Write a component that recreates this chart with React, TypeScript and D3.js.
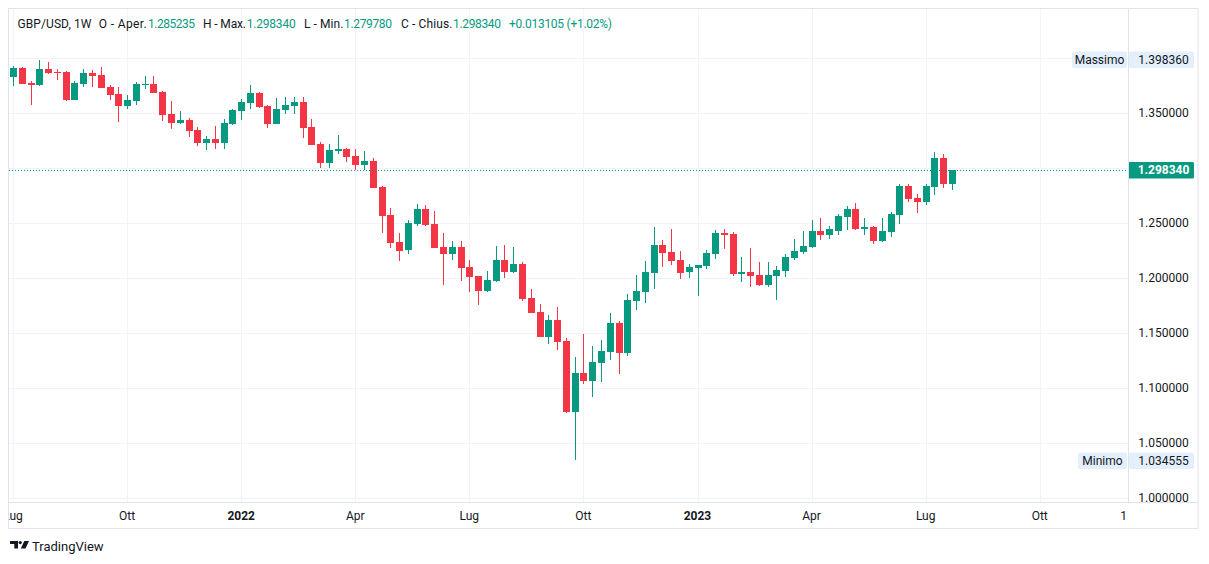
import React from "react";
import * as d3 from "d3";

// Weekly GBP/USD candles, first week starting 2021-07-05
const firstWeek = "2021-07-05";

const opens = [
  1.3830, 1.3909, 1.3775, 1.3755, 1.3900, 1.3873, 1.3876, 1.3618, 1.3764, 1.3864,
  1.3845, 1.3736, 1.3673, 1.3564, 1.3609, 1.3757, 1.3764, 1.3691, 1.3491, 1.3409,
  1.3436, 1.3345, 1.3227, 1.3264, 1.3227, 1.3400, 1.3518, 1.3591, 1.3682, 1.3564,
  1.3400, 1.3527, 1.3564, 1.3600, 1.3373, 1.3218, 1.3045, 1.3155, 1.3173, 1.3109,
  1.3027, 1.3064, 1.2827, 1.2573, 1.2327, 1.2255, 1.2491, 1.2627, 1.2491, 1.2282,
  1.2218, 1.2282, 1.2100, 1.2018, 1.1882, 1.1973, 1.2164, 1.2055, 1.2127, 1.1818,
  1.1691, 1.1464, 1.1618, 1.1427, 1.0782, 1.1136, 1.1064, 1.1227, 1.1327, 1.1591,
  1.1318, 1.1791, 1.1873, 1.2045, 1.2300, 1.2236, 1.2164, 1.2055, 1.2091, 1.2109,
  1.2218, 1.2409, 1.2400, 1.2036, 1.2055, 1.2027, 1.1936, 1.2018, 1.2064, 1.2182,
  1.2236, 1.2282, 1.2427, 1.2391, 1.2427, 1.2555, 1.2627, 1.2445, 1.2464, 1.2336,
  1.2418, 1.2573, 1.2839, 1.2730, 1.2691, 1.2827, 1.3091, 1.285235,
];

const highs = [
  1.3927, 1.3918, 1.3791, 1.39836, 1.3964, 1.3900, 1.3882, 1.3791, 1.3900, 1.3891,
  1.3918, 1.3755, 1.3736, 1.3664, 1.3782, 1.3836, 1.3836, 1.3700, 1.3609, 1.3518,
  1.3455, 1.3373, 1.3291, 1.3382, 1.3445, 1.3536, 1.3627, 1.3755, 1.3691, 1.3573,
  1.3636, 1.3645, 1.3645, 1.3645, 1.3445, 1.3236, 1.3218, 1.3300, 1.3182, 1.3173,
  1.3155, 1.3091, 1.2836, 1.2636, 1.2409, 1.2527, 1.2673, 1.2664, 1.2609, 1.2409,
  1.2336, 1.2336, 1.2164, 1.2018, 1.2064, 1.2291, 1.2300, 1.2282, 1.2145, 1.1900,
  1.1764, 1.1664, 1.1736, 1.1455, 1.1282, 1.1491, 1.1382, 1.1436, 1.1682, 1.1609,
  1.1855, 1.2027, 1.2155, 1.2464, 1.2345, 1.2445, 1.2245, 1.2127, 1.2118, 1.2255,
  1.2436, 1.2445, 1.2418, 1.2191, 1.2273, 1.2145, 1.2145, 1.2109, 1.2218, 1.2355,
  1.2427, 1.2527, 1.2545, 1.2473, 1.2582, 1.2655, 1.2682, 1.2545, 1.2473, 1.2545,
  1.2600, 1.2855, 1.2855, 1.2764, 1.2855, 1.3145, 1.3127, 1.298340,
];

const lows = [
  1.3748, 1.3761, 1.3573, 1.3748, 1.3855, 1.3800, 1.3609, 1.3618, 1.3739, 1.3739,
  1.3727, 1.3618, 1.3418, 1.3536, 1.3573, 1.3718, 1.3679, 1.3427, 1.3355, 1.3400,
  1.3282, 1.3200, 1.3164, 1.3173, 1.3173, 1.3391, 1.3436, 1.3536, 1.3545, 1.3364,
  1.3400, 1.3491, 1.3491, 1.3273, 1.3209, 1.3000, 1.3000, 1.3127, 1.3055, 1.2982,
  1.2982, 1.2818, 1.2409, 1.2273, 1.2155, 1.2218, 1.2473, 1.2473, 1.2273, 1.1936,
  1.2164, 1.1973, 1.1873, 1.1755, 1.1873, 1.1964, 1.2000, 1.2045, 1.1791, 1.1682,
  1.1464, 1.1400, 1.1345, 1.0773, 1.034555, 1.1036, 1.0918, 1.1055, 1.1255, 1.1127,
  1.1291, 1.1709, 1.1773, 1.1900, 1.2100, 1.2118, 1.1991, 1.2000, 1.1836, 1.2082,
  1.2173, 1.2264, 1.2018, 1.1964, 1.1918, 1.1927, 1.1918, 1.1800, 1.2009, 1.2164,
  1.2218, 1.2273, 1.2345, 1.2355, 1.2391, 1.2436, 1.2436, 1.2391, 1.2309, 1.2327,
  1.2373, 1.2491, 1.2691, 1.2591, 1.2664, 1.2755, 1.2818, 1.279780,
];

const closes = [
  1.3909, 1.3766, 1.3757, 1.3900, 1.3864, 1.3866, 1.3618, 1.3773, 1.3864, 1.3836,
  1.3727, 1.3664, 1.3564, 1.3618, 1.3764, 1.3766, 1.3682, 1.3482, 1.3409, 1.3436,
  1.3336, 1.3227, 1.3264, 1.3227, 1.3409, 1.3527, 1.3600, 1.3682, 1.3554, 1.3400,
  1.3536, 1.3573, 1.3600, 1.3364, 1.3209, 1.3045, 1.3164, 1.3173, 1.3100, 1.3027,
  1.3064, 1.2818, 1.2564, 1.2318, 1.2245, 1.2500, 1.2627, 1.2482, 1.2273, 1.2218,
  1.2282, 1.2091, 1.2009, 1.1882, 1.1982, 1.2164, 1.2055, 1.2127, 1.1809, 1.1682,
  1.1464, 1.1618, 1.1418, 1.0782, 1.1136, 1.1064, 1.1236, 1.1336, 1.1591, 1.1318,
  1.1800, 1.1882, 1.2055, 1.2300, 1.2227, 1.2155, 1.2045, 1.2100, 1.2118, 1.2227,
  1.2409, 1.2391, 1.2036, 1.2055, 1.2018, 1.1936, 1.2027, 1.2073, 1.2191, 1.2245,
  1.2291, 1.2427, 1.2391, 1.2445, 1.2564, 1.2627, 1.2445, 1.2464, 1.2336, 1.2427,
  1.2582, 1.2839, 1.2718, 1.2691, 1.2839, 1.3091, 1.285235, 1.298340,
];

const timeTickDates = [
  "2021-07-05", "2021-10-04", "2022-01-03", "2022-04-04", "2022-07-04",
  "2022-10-03", "2023-01-02", "2023-04-03", "2023-07-03", "2023-10-02",
];
const timeTickLabels = ["Lug", "Ott", "2022", "Apr", "Lug", "Ott", "2023", "Apr", "Lug", "Ott"];
const yearLabels = ["2022", "2023"];

const priceTicks = [1.0, 1.05, 1.1, 1.15, 1.2, 1.25, 1.3, 1.35, 1.4];
const hiddenPriceLabels = [1.3, 1.4];

const UP = "#089981";
const DOWN = "#f23645";
const TEXT = "#131722";
const BORDER = "#e0e3eb";
const GRID = "#f0f3fa";
const FONT = "Roboto, 'Noto Sans', sans-serif";

const paneL = 9, paneR = 1128, paneT = 9, paneB = 502;
const outerR = 1198, outerB = 528.5;

export default function App() {
  const parse = d3.utcParse("%Y-%m-%d");
  const start = parse(firstWeek) as Date;
  const dates = closes.map((_, i) => d3.utcMonday.offset(start, i));
  const x = d3.scaleUtc().domain([dates[0], dates[dates.length - 1]]).range([13, 952]);
  const y = d3.scaleLinear().domain([1.0, 1.4]).range([498, 58]);
  const fmt = d3.format(".6f");

  const n = closes.length;
  const lastO = opens[n - 1], lastH = highs[n - 1], lastL = lows[n - 1], lastC = closes[n - 1];
  const prevC = closes[n - 2];
  const chg = lastC - prevC;
  const chgPct = (chg / prevC) * 100;
  const maxH = d3.max(highs) as number;
  const minL = d3.min(lows) as number;

  const yMax = y(maxH), yMin = y(minL), yLast = y(lastC);

  return (
    <div style={{ position: "absolute", left: 0, top: 0 }}>
      <svg width={1209} height={564} style={{ display: "block", fontFamily: FONT }}>
        <defs>
          <clipPath id="pane">
            <rect x={paneL} y={paneT} width={paneR - paneL} height={paneB - paneT} />
          </clipPath>
          <clipPath id="timeaxis">
            <rect x={paneL} y={paneB} width={paneR - paneL} height={outerB - paneB} />
          </clipPath>
          <clipPath id="priceaxis">
            <rect x={paneR} y={paneT} width={outerR - paneR} height={paneB - paneT} />
          </clipPath>
        </defs>
        <rect x={0} y={0} width={1209} height={564} fill="#ffffff" />

        {/* grid */}
        <g clipPath="url(#pane)">
          {priceTicks.map((p) => (
            <line key={"h" + p} x1={paneL} x2={paneR} y1={Math.round(y(p)) + 0.5} y2={Math.round(y(p)) + 0.5} stroke={GRID} strokeWidth={1} />
          ))}
          {timeTickDates.map((d) => {
            const xx = Math.round(x(parse(d) as Date)) + 0.5;
            return <line key={"v" + d} x1={xx} x2={xx} y1={paneT} y2={paneB} stroke={GRID} strokeWidth={1} />;
          })}
        </g>

        {/* candles */}
        <g clipPath="url(#pane)">
          {closes.map((c, i) => {
            const o = opens[i], h = highs[i], l = lows[i];
            const up = c >= o;
            const col = up ? UP : DOWN;
            const cx = Math.round(x(dates[i]));
            const top = Math.round(y(Math.max(o, c)));
            const bot = Math.round(y(Math.min(o, c)));
            const hy = Math.round(y(h));
            const ly = Math.round(y(l));
            return (
              <g key={i}>
                <rect x={cx} y={hy} width={1} height={Math.max(1, ly - hy)} fill={col} />
                <rect x={cx - 3} y={top} width={7} height={Math.max(1, bot - top)} fill={col} />
              </g>
            );
          })}
          <line x1={paneL} x2={paneR} y1={Math.round(yLast) + 0.5} y2={Math.round(yLast) + 0.5} stroke={UP} strokeWidth={1} strokeDasharray="1 2" />
        </g>

        {/* header */}
        <g fontSize={12} fill={TEXT}>
          <text x={17.5} y={28} textLength={74} lengthAdjust="spacing">GBP/USD, 1W</text>
          <text x={98.7} y={28} textLength={48} lengthAdjust="spacing">O - Aper.</text>
          <text x={148} y={28} fill={UP} textLength={47} lengthAdjust="spacing">{fmt(lastO)}</text>
          <text x={203} y={28} textLength={43} lengthAdjust="spacing">H - Max.</text>
          <text x={246.7} y={28} fill={UP} textLength={49} lengthAdjust="spacing">{fmt(lastH)}</text>
          <text x={304} y={28} textLength={39.5} lengthAdjust="spacing">L - Min.</text>
          <text x={344} y={28} fill={UP} textLength={48} lengthAdjust="spacing">{fmt(lastL)}</text>
          <text x={401} y={28} textLength={51.5} lengthAdjust="spacing">C - Chius.</text>
          <text x={453} y={28} fill={UP} textLength={48} lengthAdjust="spacing">{fmt(lastC)}</text>
          <text x={509} y={28} fill={UP} textLength={103} lengthAdjust="spacing">{(chg >= 0 ? "+" : "") + fmt(chg) + " (" + (chgPct >= 0 ? "+" : "") + chgPct.toFixed(2) + "%)"}</text>
        </g>

        {/* price axis */}
        <g clipPath="url(#priceaxis)" fontSize={12} fill={TEXT}>
          {priceTicks.filter((p) => !hiddenPriceLabels.includes(p)).map((p) => (
            <text key={"pl" + p} x={1163.5} y={y(p) + 4} textAnchor="middle">{fmt(p)}</text>
          ))}
        </g>

        {/* max / min labels */}
        <g fontSize={12}>
          <rect x={1072} y={Math.round(yMax) - 8.5} width={55} height={16.5} rx={2} fill="#e3effd" />
          <text x={1099.5} y={yMax + 4} textAnchor="middle" fill={TEXT}>Massimo</text>
          <rect x={1129} y={Math.round(yMax) - 8.5} width={65} height={16.5} rx={2} fill="#e3effd" />
          <text x={1163.5} y={yMax + 4} textAnchor="middle" fill={TEXT}>{fmt(maxH)}</text>

          <rect x={1078} y={Math.round(yMin) - 7.5} width={49} height={16.5} rx={2} fill="#e3effd" />
          <text x={1102.5} y={yMin + 5} textAnchor="middle" fill={TEXT}>Minimo</text>
          <rect x={1129} y={Math.round(yMin) - 7.5} width={65} height={16.5} rx={2} fill="#e3effd" />
          <text x={1163.5} y={yMin + 5} textAnchor="middle" fill={TEXT}>{fmt(minL)}</text>

          <rect x={1128} y={Math.round(yLast) - 8} width={66} height={16.5} rx={1.5} fill={UP} />
          <text x={1163.5} y={yLast + 4.5} textAnchor="middle" fill="#ffffff" fontWeight={700}>{fmt(lastC)}</text>
        </g>

        {/* time axis */}
        <g clipPath="url(#timeaxis)" fontSize={12} fill={TEXT}>
          {timeTickDates.map((d, i) => (
            <text key={"tl" + d} x={x(parse(d) as Date)} y={519.5} textAnchor="middle" fontWeight={yearLabels.includes(timeTickLabels[i]) ? 700 : 400}>
              {timeTickLabels[i]}
            </text>
          ))}
          <text x={1127} y={519.5} textAnchor="end">1</text>
        </g>

        {/* frame */}
        <line x1={paneL} x2={outerR} y1={paneB + 0.5} y2={paneB + 0.5} stroke={BORDER} />
        <line x1={paneR + 0.5} x2={paneR + 0.5} y1={paneT} y2={paneB} stroke={BORDER} />
        <rect x={8.5} y={8.5} width={outerR - 8.5} height={outerB - 8.5} fill="none" stroke={BORDER} />

        {/* logo */}
        <g transform="translate(10,541)" fill={TEXT}>
          <path d="M0 0 H8 V7.5 H4.3 V3 H0 Z" />
          <circle cx={10.2} cy={1.6} r={1.6} />
          <path d="M14.3 0 H19 L15.5 7.5 H10.8 Z" />
        </g>
        <text x={32} y={550.5} fontSize={13} fill={TEXT}>TradingView</text>
      </svg>
    </div>
  );
}
